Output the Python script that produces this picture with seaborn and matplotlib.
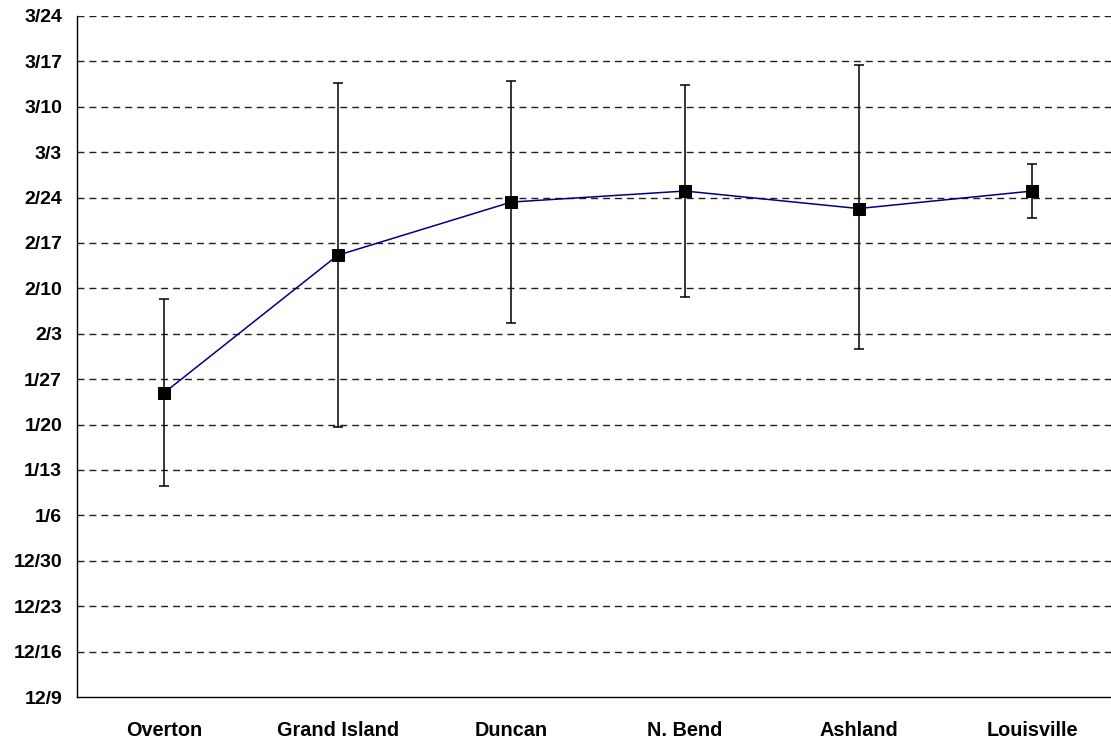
import matplotlib
matplotlib.use("Agg")
import matplotlib.pyplot as plt
import seaborn as sns
import numpy as np
import pandas as pd

# Data: days after 12/9
sites = ["Overton", "Grand Island", "Duncan", "N. Bend", "Ashland", "Louisville"]
mean_day = [46.9, 68.1, 76.3, 78.0, 75.3, 78.0]
low_day = [32.5, 41.6, 57.6, 61.7, 53.7, 73.8]
high_day = [61.3, 94.7, 95.0, 94.4, 97.4, 82.2]
ytick_days = [0, 7, 14, 21, 28, 35, 42, 49, 56, 63, 70, 77, 84, 91, 98, 105]
ytick_labels = ["12/9", "12/16", "12/23", "12/30", "1/6", "1/13", "1/20", "1/27",
                "2/3", "2/10", "2/17", "2/24", "3/3", "3/10", "3/17", "3/24"]

sns.set_style("white")
plt.rcParams['font.family'] = ['Liberation Sans', 'DejaVu Sans']

df = pd.DataFrame({"site": sites, "pos": np.arange(len(sites)), "mean": mean_day,
                   "low": low_day, "high": high_day})

fig = plt.figure(figsize=(11.11, 7.42), dpi=100)
ax = fig.add_axes([0.0696, 0.0606, 0.9376, 0.918])

for d in ytick_days[1:]:
    ax.axhline(d, color="#202020", lw=1.0, ls=(0, (5, 3.6)), zorder=0)

yerr = np.array([df["mean"] - df["low"], df["high"] - df["mean"]])
ax.errorbar(df["pos"], df["mean"], yerr=yerr, fmt="none", ecolor="black",
            elinewidth=1.1, capsize=3.6, capthick=1.1, zorder=2)
sns.lineplot(data=df, x="pos", y="mean", ax=ax, color="#000080", lw=1.1,
             marker="s", markersize=9, markerfacecolor="black",
             markeredgecolor="black", zorder=3)

ax.set_xlim(-0.5, len(sites) - 0.5)
ax.set_ylim(0, 105)
ax.set_yticks(ytick_days)
ax.set_yticklabels(ytick_labels, fontsize=14, fontweight="bold", color="black")
ax.set_xticks(np.arange(len(sites) - 1) + 0.5)
ax.set_xticklabels([])
ax.set_xticks(np.arange(len(sites)), minor=True)
ax.set_xticklabels(sites, minor=True, fontsize=14.3, fontweight="bold", color="black")
ax.tick_params(axis="x", which="major", direction="out", length=5, width=1, color="black")
ax.tick_params(axis="x", which="minor", length=0, pad=17)
ax.tick_params(axis="y", direction="out", length=6, width=1, color="black", pad=5)
ax.set_xlabel("")
ax.set_ylabel("")
for s in ["top", "right"]:
    ax.spines[s].set_visible(False)
for s in ["left", "bottom"]:
    ax.spines[s].set_color("black")
    ax.spines[s].set_linewidth(1)

fig.savefig("out.png", dpi=100)
